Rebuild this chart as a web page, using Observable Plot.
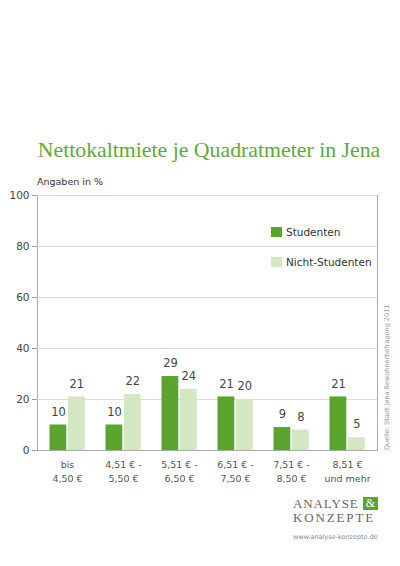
<!DOCTYPE html>
<html>
<head>
<meta charset="utf-8">
<script src="https://cdn.jsdelivr.net/npm/d3@7"></script>
<script src="https://cdn.jsdelivr.net/npm/@observablehq/plot@0.6"></script>
<style>
  html, body { margin: 0; padding: 0; background: #fff; }
  #page { position: relative; width: 400px; height: 566px; overflow: hidden; font-family: "DejaVu Sans", sans-serif; }
  #title { position: absolute; left: 0; width: 418px; top: 139px; text-align: center; font-family: "Liberation Serif", serif; font-size: 21.8px; line-height: 22px; color: #62a83c; white-space: nowrap; }
  #unit { position: absolute; left: 37px; top: 177px; font-size: 9.5px; line-height: 10px; color: #333; }
  #chart { position: absolute; left: 0; top: 170px; }
  .leg { position: absolute; left: 271px; display: flex; align-items: center; font-size: 10.5px; color: #333; }
  .leg span.sw { display: inline-block; width: 11px; height: 10px; margin-right: 4px; }
  #source { position: absolute; left: 383px; top: 295px; height: 155px; writing-mode: vertical-rl; transform: rotate(180deg); font-size: 6.5px; color: #999; text-align: left; white-space: nowrap; }
  .logo { position: absolute; left: 293px; font-family: "Liberation Serif", serif; font-size: 13px; line-height: 14px; color: #666; white-space: nowrap; }
  #amp { position: absolute; left: 363px; top: 497px; background: #5ba52f; color: #fff; width: 15px; height: 13px; line-height: 13px; text-align: center; font-family: "Liberation Serif", serif; font-size: 12px; }
  #url { position: absolute; left: 293px; top: 533px; font-size: 6.5px; color: #888; white-space: nowrap; }
</style>
</head>
<body>
<div id="page">
  <div id="title">Nettokaltmiete je Quadratmeter in Jena</div>
  <div id="unit">Angaben in %</div>
  <div id="chart"></div>
  <div id="legend"></div>
  <div id="source">Quelle: Stadt Jena Bewohnerbefragung 2011</div>
  <div class="logo" style="top:496.5px; letter-spacing:0.9px">ANALYSE</div>
  <div id="amp">&amp;</div>
  <div class="logo" style="top:511px; letter-spacing:1.85px">KONZEPTE</div>
  <div id="url">www.analyse-konzepte.de</div>
</div>
<script>
const categories = ["bis\n4,50 €", "4,51 € -\n5,50 €", "5,51 € -\n6,50 €", "6,51 € -\n7,50 €", "7,51 € -\n8,50 €", "8,51 €\nund mehr"];
const studenten = [10, 10, 29, 21, 9, 21];
const nichtStudenten = [21, 22, 24, 20, 8, 5];
const seriesNames = ["Studenten", "Nicht-Studenten"];
const seriesColors = ["#5ba52f", "#d4e7c3"];
const yTicks = [0, 20, 40, 60, 80, 100];

const rowsS = categories.map((c, i) => ({cat: c, value: studenten[i]}));
const rowsN = categories.map((c, i) => ({cat: c, value: nichtStudenten[i]}));

const chart = Plot.plot({
  width: 400,
  height: 330,
  marginTop: 25,
  marginBottom: 50,
  marginLeft: 37,
  marginRight: 23,
  style: {fontFamily: "DejaVu Sans, sans-serif", background: "transparent"},
  x: {domain: categories, padding: 0},
  y: {domain: [0, 100]},
  marks: [
    Plot.frame({stroke: "#aaa"}),
    Plot.gridY(yTicks.filter(t => t > 0), {stroke: "#ddd", strokeOpacity: 1}),
    Plot.barY(rowsS, {x: "cat", y: "value", fill: seriesColors[0], insetLeft: 10.5, insetRight: 28.7}),
    Plot.barY(rowsN, {x: "cat", y: "value", fill: seriesColors[1], insetLeft: 28.9, insetRight: 10.3}),
    Plot.ruleY([0], {stroke: "#aaa"}),
    Plot.text(rowsS, {x: "cat", y: "value", text: d => String(d.value), dx: -9, dy: -13, fontSize: 11.5, fill: "#444"}),
    Plot.text(rowsN, {x: "cat", y: "value", text: d => String(d.value), dx: 9.3, dy: -13, fontSize: 11.5, fill: "#444"}),
    Plot.axisY({ticks: yTicks, tickSize: 5, tickPadding: 3, fontSize: 10.5, stroke: "#999", fill: "#444", label: null}),
    Plot.axisX({tickSize: 0, tickPadding: 8, fontSize: 9.5, fill: "#555", lineHeight: 1.45, label: null})
  ]
});
document.getElementById("chart").appendChild(chart);

const legend = document.getElementById("legend");
seriesNames.forEach((name, i) => {
  const item = document.createElement("div");
  item.className = "leg";
  item.style.top = (226 + i * 30) + "px";
  item.innerHTML = `<span class="sw" style="background:${seriesColors[i]}"></span><span>${name}</span>`;
  legend.appendChild(item);
});
</script>
</body>
</html>
